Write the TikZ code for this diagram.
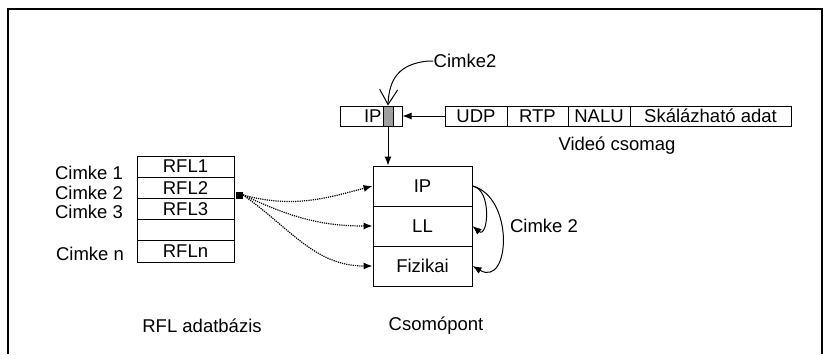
\documentclass[tikz,border=0pt]{standalone}
\usepackage{fontspec}
\setmainfont{Liberation Sans}
\usetikzlibrary{arrows.meta}
\begin{document}
\begin{tikzpicture}
  [x=1pt,y=-1pt,line width=1pt,font=\fontsize{18.5}{20}\selectfont,
   cell/.style={draw,rectangle,inner sep=0pt,minimum height=20pt},
   row/.style={cell,minimum width=97pt,minimum height=21.2pt},
   layer/.style={cell,minimum width=99pt,minimum height=40pt},
   lbl/.style={inner sep=0pt},
   tip/.style={-{Latex[length=9pt,width=7pt]}}]
  \useasboundingbox (0,0) rectangle (825,354);
  \draw[line width=1.3pt] (8,354) -- (8,9) -- (822,9) -- (822,354);

  % RFL adatbazis
  \node[row] (r1) at (185.5,166.6) {RFL1};
  \node[row] (r2) at (185.5,187.8) {RFL2};
  \node[row] (r3) at (185.5,209)   {RFL3};
  \node[row] (r4) at (185.5,230.2) {};
  \node[row] (rn) at (185.5,251.4) {RFLn};
  \node[lbl] (k1) at (89,173) {Cimke 1};
  \node[lbl] (k2) at (89,193) {Cimke 2};
  \node[lbl] (k3) at (89,212) {Cimke 3};
  \node[lbl] (kn) at (90,254) {Cimke n};
  \node[fill,minimum size=7pt,inner sep=0pt] (src) at (239,195) {};
  \node[lbl] (db) at (202,326) {RFL adatbázis};

  % csomag
  \node[cell,minimum width=62pt] (ipbox) at (371,116) {};
  \node[lbl,anchor=east] (iptxt) at (382,116) {IP};
  \node[cell,fill=gray!75,minimum width=10pt] (tag) at (388,116) {};
  \node[cell,minimum width=62pt]  (udp)  at (476,116)   {UDP};
  \node[cell,minimum width=61pt]  (rtp)  at (537.5,116) {RTP};
  \node[cell,minimum width=62pt]  (nalu) at (599,116)   {NALU};
  \node[cell,minimum width=161pt] (data) at (710.5,116) {Skálázható adat};
  \node[lbl] (vid) at (617,146) {Videó csomag};
  \node[lbl] (c2) at (465,61) {Cimke2};

  % csomopont
  \node[layer] (ip)  at (422.5,186) {IP};
  \node[layer] (ll)  at (422.5,226) {LL};
  \node[layer] (fiz) at (422.5,266) {Fizikai};
  \node[lbl] (c2r) at (544,226) {Cimke 2};
  \node[lbl] (cs) at (436,326) {Csomópont};

\path[draw]
    (udp.west) edge [tip] (ipbox.east)
    (tag.south) edge [tip] (tag.south |- ip.north)
    (ip.east) edge [tip,out=-10,in=-40,looseness=1.3] (ll.east)
    (ip.east) edge [tip,out=-15,in=-30,looseness=1.4] (fiz.east)
    ;
\path[draw,densely dotted,line width=1.2pt]
    (src.east) edge [tip,out=-15,in=195] (ip.west)
    (src.east) edge [tip,out=-25,in=180] (ll.west)
    (src.east) edge [tip,out=-35,in=180] (fiz.west)
    ;
\draw[-{Straight Barb[length=15pt,width=18pt]}]
    (c2.west) -- ++(-5,0) .. controls (398,64) and (389,80) .. (tag.north);

\end{tikzpicture}
\end{document}
